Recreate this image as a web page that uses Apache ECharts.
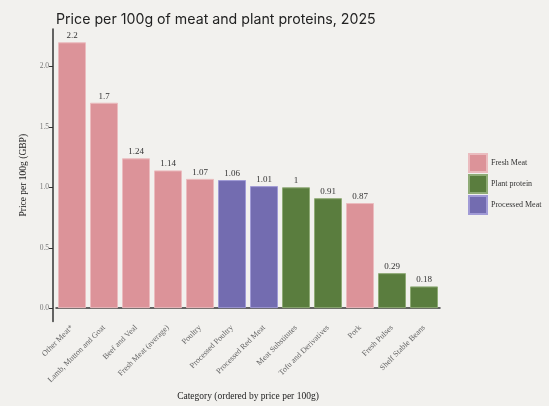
<!DOCTYPE html>
<html>
<head>
<meta charset="utf-8">
<script src="https://cdn.jsdelivr.net/npm/echarts@6/dist/echarts.min.js"></script>
<style>
  html, body { margin: 0; padding: 0; background: #f2f1ee; }
  #main { width: 549px; height: 406px; }
</style>
</head>
<body>
<div id="main"></div>
<script>
// data
var categories = ['Other Meat*', 'Lamb, Mutton and Goat', 'Beef and Veal', 'Fresh Meat (average)',
    'Poultry', 'Processed Poultry', 'Processed Red Meat', 'Meat Substitutes',
    'Tofu and Derivatives', 'Pork', 'Fresh Pulses', 'Shelf Stable Beans'];
var prices = [2.2, 1.7, 1.24, 1.14, 1.07, 1.06, 1.01, 1, 0.91, 0.87, 0.29, 0.18];
var groups = ['Fresh Meat', 'Fresh Meat', 'Fresh Meat', 'Fresh Meat', 'Fresh Meat',
    'Processed Meat', 'Processed Meat', 'Plant protein', 'Plant protein',
    'Fresh Meat', 'Plant protein', 'Plant protein'];
var groupNames = ['Fresh Meat', 'Plant protein', 'Processed Meat'];
var yTicks = [0, 0.5, 1.0, 1.5, 2.0];

/*************************** main ***************************/
function main() {
    var myChart = echarts.init(document.getElementById('main'));

    var fills = {'Fresh Meat': '#dc9399', 'Plant protein': '#5a7d3e', 'Processed Meat': '#736cb0'};
    var borders = {'Fresh Meat': '#ebbcbf', 'Plant protein': '#8fab76', 'Processed Meat': '#a19bd6'};
    var serif = 'Liberation Serif';

    var series = groupNames.map(function (g) {
        return {
            name: g,
            type: 'bar',
            stack: 'all',
            barWidth: 28,
            itemStyle: {color: fills[g], borderColor: borders[g], borderWidth: 1},
            label: {
                show: true,
                position: 'top',
                distance: 2,
                color: '#333',
                fontFamily: serif,
                fontSize: 9,
                formatter: function (p) { return String(p.value); }
            },
            data: prices.map(function (v, i) { return groups[i] === g ? v : '-'; })
        };
    });

    var option = {
        backgroundColor: '#f2f1ee',
        animation: false,
        title: {
            text: 'Price per 100g of meat and plant proteins, 2025',
            left: 51,
            top: 8,
            textStyle: {fontFamily: 'Inter', fontSize: 14.2, fontWeight: 'normal', color: '#222'}
        },
        legend: {
            orient: 'vertical',
            left: 463,
            top: 148,
            itemWidth: 18,
            itemHeight: 18,
            itemGap: 1,
            icon: 'rect',
            data: groupNames,
            textStyle: {fontFamily: serif, fontSize: 8, color: '#333', padding: [0, 0, 0, -1]}
        },
        grid: {left: 56, width: 384, top: 29, bottom: 83, containLabel: false},
        xAxis: {
            type: 'category',
            data: categories,
            boundaryGap: true,
            name: 'Category (ordered by price per 100g)',
            nameLocation: 'middle',
            nameGap: 69,
            nameTextStyle: {fontFamily: serif, fontSize: 9.5, color: '#222'},
            axisLine: {lineStyle: {color: '#333', width: 1.5}},
            axisTick: {alignWithLabel: true, length: 4, lineStyle: {color: '#333'}},
            axisLabel: {rotate: 45, interval: 0, margin: 5, fontFamily: serif, fontSize: 8, color: '#666'}
        },
        yAxis: {
            type: 'value',
            min: -0.11,
            max: 2.31,
            offset: 3,
            name: 'Price per 100g (GBP)',
            nameLocation: 'middle',
            nameGap: 21,
            nameTextStyle: {fontFamily: serif, fontSize: 9.5, color: '#222'},
            splitLine: {show: false},
            axisLine: {show: true, lineStyle: {color: '#333', width: 1.5}},
            axisTick: {show: true, length: 4, customValues: yTicks, lineStyle: {color: '#333'}},
            axisLabel: {
                customValues: yTicks,
                margin: 4,
                fontFamily: serif,
                fontSize: 7.5,
                color: '#777',
                formatter: function (v) { return v.toFixed(1); }
            }
        },
        series: series
    };

    myChart.setOption(option);
}

main();
</script>
</body>
</html>
